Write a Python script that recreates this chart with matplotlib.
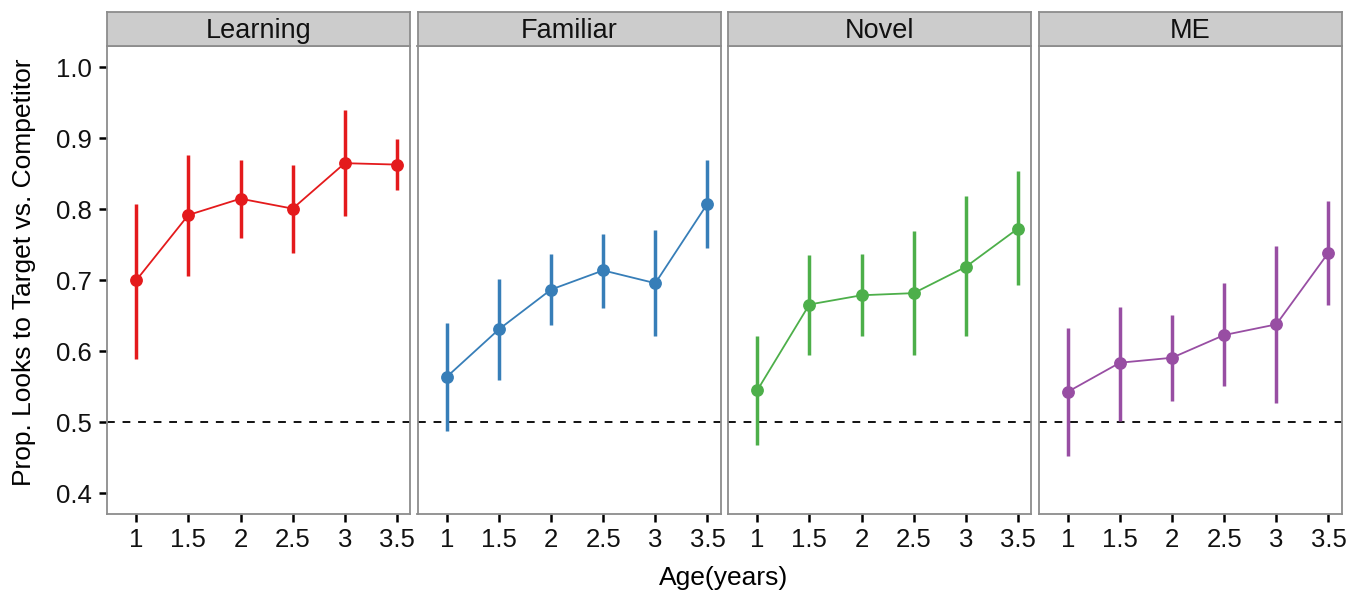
import numpy as np
import matplotlib
matplotlib.use("Agg")
import matplotlib.pyplot as plt

plt.rcParams['font.family'] = ['Liberation Sans', 'DejaVu Sans']

# facets
panels = ['Learning', 'Familiar', 'Novel', 'ME']
colors = ['#E41A1C', '#377EB8', '#4DAF4A', '#984EA3']

age = [1, 1.5, 2, 2.5, 3, 3.5]
age_labels = ['1', '1.5', '2', '2.5', '3', '3.5']

# mean proportion of looks to target, with lower / upper CI
learning_mean = [0.700, 0.792, 0.815, 0.801, 0.865, 0.863]
learning_lo = [0.589, 0.706, 0.760, 0.739, 0.790, 0.827]
learning_hi = [0.807, 0.876, 0.869, 0.862, 0.940, 0.899]

familiar_mean = [0.564, 0.631, 0.687, 0.714, 0.696, 0.808]
familiar_lo = [0.488, 0.560, 0.637, 0.661, 0.622, 0.745]
familiar_hi = [0.640, 0.702, 0.737, 0.765, 0.771, 0.869]

novel_mean = [0.545, 0.666, 0.679, 0.682, 0.719, 0.773]
novel_lo = [0.468, 0.595, 0.621, 0.595, 0.621, 0.693]
novel_hi = [0.622, 0.736, 0.737, 0.769, 0.819, 0.854]

me_mean = [0.543, 0.584, 0.591, 0.623, 0.638, 0.739]
me_lo = [0.452, 0.502, 0.530, 0.551, 0.528, 0.665]
me_hi = [0.633, 0.662, 0.651, 0.696, 0.748, 0.812]

means = [learning_mean, familiar_mean, novel_mean, me_mean]
los = [learning_lo, familiar_lo, novel_lo, me_lo]
his = [learning_hi, familiar_hi, novel_hi, me_hi]

W, H = 1357, 591
fig = plt.figure(figsize=(W / 100, H / 100), dpi=100)

lefts = [107, 417.5, 728, 1038.5]
pw = 303
top, bottom = 46, 514
strip_top = 12
border = '#8c8c8c'

for i, name in enumerate(panels):
    ax = fig.add_axes([lefts[i] / W, 1 - bottom / H, pw / W, (bottom - top) / H])
    m = np.array(means[i])
    lo = np.array(los[i])
    hi = np.array(his[i])
    ax.axhline(0.5, color='#111111', lw=1.4, dashes=(4, 4), zorder=1)
    ax.vlines(age, lo, hi, color=colors[i], lw=2.5, zorder=2)
    ax.plot(age, m, color=colors[i], lw=1.3, marker='o', ms=8.2, zorder=3)
    ax.set_xlim(0.72, 3.625)
    ax.set_ylim(0.371, 1.03)
    ax.set_xticks(age)
    ax.set_xticklabels(age_labels)
    ax.set_yticks([0.4, 0.5, 0.6, 0.7, 0.8, 0.9, 1.0])
    ax.tick_params(axis='both', length=6, width=1.8, labelsize=18.5, color='black', labelcolor='#111111')
    ax.tick_params(axis='x', pad=4)
    ax.tick_params(axis='y', pad=5)
    if i > 0:
        ax.tick_params(axis='y', left=False, labelleft=False)
    for s in ax.spines.values():
        s.set_color(border)
        s.set_linewidth(1.3)

    # strip header
    sx = fig.add_axes([lefts[i] / W, 1 - top / H, pw / W, (top - strip_top) / H])
    sx.set_facecolor('#CCCCCC')
    sx.set_xticks([])
    sx.set_yticks([])
    for s in sx.spines.values():
        s.set_color(border)
        s.set_linewidth(1.3)
    sx.text(0.5, 0.45, name, ha='center', va='center', fontsize=19.5, color='#111111',
            transform=sx.transAxes)

fig.text(724 / W, 1 - 578 / H, 'Age(years)', ha='center', va='center', fontsize=19)
fig.text(24 / W, 1 - 272 / H, 'Prop. Looks to Target vs. Competitor', ha='center', va='center',
         rotation=90, fontsize=19)

fig.savefig('out.png', dpi=100)
